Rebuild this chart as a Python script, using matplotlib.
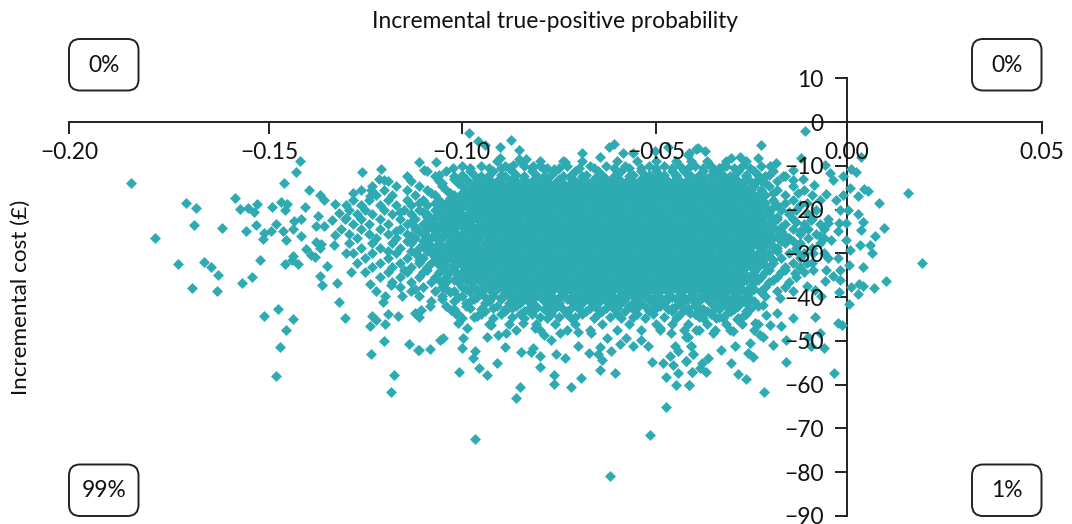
import matplotlib
matplotlib.use("Agg")
import matplotlib.pyplot as plt
from matplotlib.patches import FancyBboxPatch

plt.rcParams["font.family"] = ["Lato", "DejaVu Sans"]

# scattered points
edge_prob = [
    -.1840, -.1699, -.1673, -.1679, -.1778, -.1606, -.1719, -.1652, -.1636, -.1617, -.1684, -.1620, -.1555, -.1530,
    -.1509, -.1546, -.1520, -.1573, -.1560, -.1540, -.1525, -.1517, -.1478, -.1454, -.1439, -.1444, -.1393, -.1384,
    -.1447, -.1416, -.1407, -.1499, -.1502, -.1482, -.1469, -.1450, -.1441, -.1421, -.1424, -.1403, -.1403, -.1391,
    -.1424, -.1445, -.1428, -.1411, -.1379, -.1368, -.1364, -.1361, -.1345, -.1364, -.1351, -.1355, -.1338, -.1354,
    -.1349, -.1312, -.1305, -.1291, -.1498, -.1464, -.1424, -.1443, -.1457, -.1469, -.1224, -.1191, -.1227, -.1220,
    -.1210, -.1188, -.1180, -.1153, -.1194, -.1188, -.1210, -.1225, -.1173, -.1145, -.1126, -.1103, -.1164, -.1172,
    -.1107, -.1355, -.1345, -.1316, -.1289, -.1271, -.1246, -.1197, -.1203, -.1190, -.1223, -.1225, -.1317, -.1319,
    -.1287, -.1274, -.1325, -.1306, -.1287,
    -.0957, -.0507, -.0608, -.0466, -.0852, -.0840, -.0998, -.0946, -.0926, -.0901, -.0961, -.0957, -.0989, -.0987,
    -.1099, -.1071, -.1047, -.1039, -.0879, -.0925, -.0976, -.1000, -.0951, -.1017, -.1006, -.1071, -.1110, -.1099,
    -.1094, -.0914, -.0897, -.0876, -.0837, -.0807, -.0812, -.0790, -.0790, -.0749, -.0724, -.0752, -.0754, -.0709,
    -.0683, -.0635, -.0597, -.0629, -.0663, -.0640, -.0634, -.0607, -.0692, -.0617, -.0692, -.0739, -.0760, -.0780,
    -.0803, -.0833, -.0501, -.0473, -.0466, -.0440, -.0406, -.0434, -.0399, -.0447, -.0415, -.0396, -.0400, -.0443,
    -.0435, -.0456, -.0550, -.0512, -.0584, -.0567, -.0529, -.0657, -.0482, -.0413, -.0452, -.0379,
    -.0973, -.0949, -.0930, -.0892, -.0865, -.0844, -.0893, -.0843, -.1100, -.1056, -.1088, -.0824, -.0782, -.0754,
    -.0724, -.0680, -.0636, -.0612, -.0600, -.0576, -.0550, -.0494, -.0460, -.0405, -.0383, -.1013, -.0944, -.0927,
    -.0889, -.0859, -.0807,
    -.0108, -.0220, -.0119, .0037, -.0387, -.0366, -.0409, -.0297, -.0276, -.0230, -.0319, -.0182, -.0199, -.0139,
    -.0057, -.0044, -.0010, .0009, .0024, -.0113, -.0036, -.0085, .0007, .0043, .0054, .0028, -.0053, -.0027, -.0010,
    .0082, .0157, .0027, .0003, -.0019, .0040, .0094, .0071, .0037, .0058, .0033, .0063, .0007, -.0020, -.0002,
    -.0023, -.0002, -.0040, -.0023, -.0049, .0005, .0041, .0194, -.0019, -.0053, -.0087, -.0017, -.0036, -.0057,
    .0011, .0031, .0041, .0070, .0099, .0027, -.0021, .0004, -.0066, -.0083, -.0104, -.0083, -.0140, -.0023, -.0014,
    -.0156, -.0190, -.0070, -.0100, -.0092, -.0060, -.0156, -.0033, -.0213, -.0259, -.0280, -.0299, -.0250, -.0254,
    -.0241, -.0289, -.0323, -.0293, -.0357, -.0374, -.0363, -.0398, -.0415, -.0397, -.0400, -.0406, -.0409, -.0344,
    -.0387, -.0224, -.0216, -.0199, -.0169, -.0237, -.0284, -.0336, -.0207, -.0181, -.0216, -.0297, -.0370, -.0404,
    -.0139, -.0173, -.0134, -.0104, -.0087, -.0070, -.0049, -.0092, -.0113, -.0104, -.0126, -.0139, -.0164, -.0344,
]
edge_cost = [
    -13.9, -18.5, -19.6, -23.6, -26.4, -24.1, -32.4, -32.0, -33.0, -34.9, -37.8, -38.6, -36.8, -35.3,
    -31.5, -25.0, -23.5, -17.4, -19.8, -19.6, -20.6, -18.7, -19.4, -18.2, -18.7, -20.0, -19.3, -15.6,
    -13.9, -11.5, -8.8, -25.4, -26.7, -25.0, -23.2, -25.0, -27.0, -22.5, -24.4, -22.1, -26.0, -29.0,
    -30.5, -32.4, -31.4, -32.4, -30.4, -30.8, -23.7, -21.5, -23.8, -27.3, -27.8, -28.8, -32.8, -35.1,
    -37.2, -36.8, -41.0, -44.8, -44.2, -42.7, -45.0, -47.4, -51.5, -58.0, -53.1, -50.0, -46.5, -44.4,
    -45.3, -46.1, -43.8, -44.4, -41.2, -39.8, -38.7, -36.9, -37.3, -39.8, -50.6, -52.0, -57.8, -61.7,
    -43.8, -16.6, -17.7, -18.7, -18.9, -16.1, -11.3, -10.7, -12.9, -13.3, -15.5, -17.0, -25.7, -28.0,
    -29.9, -34.3, -22.3, -20.8, -21.9,
    -72.5, -71.4, -80.9, -65.1, -63.1, -60.5, -57.1, -56.2, -57.8, -55.1, -54.0, -52.4, -51.7, -49.4,
    -52.0, -51.8, -49.7, -49.3, -51.5, -49.0, -47.1, -46.0, -44.3, -43.0, -43.8, -42.0, -43.6, -44.5,
    -43.0, -46.4, -48.6, -48.2, -52.5, -51.6, -52.6, -53.4, -56.0, -53.1, -53.9, -57.8, -59.8, -60.6,
    -58.5, -56.7, -57.3, -54.4, -52.8, -53.0, -51.4, -52.2, -51.2, -49.4, -48.0, -48.2, -49.9, -48.7,
    -47.0, -46.0, -54.8, -55.0, -58.2, -60.1, -60.0, -57.3, -57.2, -55.4, -54.5, -53.1, -51.2, -51.2,
    -52.4, -53.5, -51.2, -51.2, -50.6, -49.3, -49.7, -48.2, -47.0, -49.0, -48.2, -56.2,
    -2.5, -4.3, -5.3, -5.6, -4.0, -6.3, -8.2, -8.4, -9.1, -9.1, -11.0, -8.5, -10.4, -10.7,
    -9.2, -7.1, -8.0, -5.7, -5.0, -7.0, -7.1, -6.5, -5.6, -7.1, -6.0, -10.5, -12.8, -15.5,
    -10.5, -9.8, -10.1,
    -2.1, -5.2, -8.2, -8.0, -6.2, -6.7, -7.5, -8.2, -7.9, -8.2, -10.1, -9.4, -10.1, -10.9,
    -9.8, -11.7, -12.3, -10.7, -11.5, -13.0, -13.3, -14.4, -15.1, -15.3, -15.8, -16.8, -16.5, -17.7, -16.6,
    -18.4, -16.2, -20.9, -20.0, -20.0, -22.9, -24.1, -26.0, -24.6, -28.0, -28.0, -29.9, -29.2, -23.1, -23.1,
    -25.0, -26.9, -26.9, -31.1, -31.1, -32.7, -33.0, -32.2, -33.9, -33.7, -33.7, -36.0, -35.2, -36.4,
    -37.7, -36.9, -37.5, -37.8, -36.3, -39.3, -38.9, -41.5, -39.8, -38.3, -37.5, -44.5, -44.8, -45.9, -46.4,
    -49.7, -50.9, -48.2, -49.0, -51.2, -51.6, -54.9, -57.4, -61.7, -58.8, -57.5, -55.0, -50.5, -52.8,
    -53.7, -51.2, -52.0, -47.8, -53.9, -55.0, -57.2, -57.2, -54.7, -53.1, -51.1, -60.0, -49.0, -48.2,
    -47.4, -48.6, -49.0, -46.3, -46.7, -45.9, -45.1, -44.8, -44.0, -43.6, -41.7, -43.2, -43.6, -43.6,
    -38.7, -40.2, -34.5, -32.2, -29.9, -26.1, -23.1, -22.3, -24.6, -18.5, -16.2, -13.2, -12.4, -10.9,
]

# the dense middle, one row of probabilities (in thousandths) per cost level
core_cost = [
    -11.2, -12.3, -13.4, -14.5, -15.6, -16.7, -17.8, -18.9, -20.0, -21.1, -22.2, -23.3, -24.4, -25.5, -26.6, -27.7,
    -28.8, -29.9, -31.0, -32.1, -33.2, -34.3, -35.4, -36.5, -37.6, -38.7, -39.8, -40.9, -42.0, -43.2, -44.5,
]
core_prob_milli = [
    [-108, -103, -97, -91, -86, -81, -75, -70, -64, -58, -53, -49, -45, -42, -37, -33, -28, -24, -19],
    [-113, -106, -101, -94, -88, -83, -78, -73, -68, -64, -60, -56, -52, -48, -44, -40, -37, -34, -30, -26, -21, -16],
    [-118, -112, -105, -100, -95, -90, -85, -81, -77, -74, -70, -67, -64, -61, -58, -55, -52, -49, -46, -43, -40, -37, -34, -31, -28, -25, -22, -18],
    [-122, -116, -110, -104, -99, -93, -89, -86, -83, -80, -77, -74, -71, -68, -65, -63, -60, -57, -55, -52, -49, -47, -44, -41, -39, -36, -33, -30, -27, -24, -20, -14],
    [-125, -119, -113, -108, -103, -98, -94, -91, -88, -85, -82, -79, -77, -74, -71, -69, -66, -64, -61, -59, -56, -54, -51, -49, -46, -44, -41, -39, -36, -34, -31, -28, -25, -22, -18, -11],
    [-121, -117, -111, -106, -101, -98, -95, -92, -90, -87, -84, -81, -78, -75, -73, -70, -68, -65, -63, -60, -58, -55, -53, -50, -48, -45, -43, -40, -38, -35, -33, -30, -27, -24, -21, -16, -9],
    [-127, -123, -118, -113, -109, -105, -102, -99, -96, -94, -91, -89, -86, -84, -81, -79, -76, -74, -71, -69, -66, -64, -61, -59, -56, -54, -51, -49, -46, -44, -41, -39, -36, -34, -31, -29, -26, -23, -19, -14, -7],
    [-125, -120, -116, -112, -108, -104, -101, -98, -95, -93, -90, -88, -85, -83, -80, -78, -75, -73, -70, -68, -65, -63, -60, -58, -55, -53, -50, -48, -45, -43, -40, -38, -35, -33, -30, -28, -25, -22, -18, -12],
    [-128, -124, -119, -114, -110, -106, -103, -100, -97, -94, -92, -89, -87, -84, -82, -79, -77, -74, -72, -69, -67, -64, -62, -59, -57, -54, -52, -49, -47, -44, -42, -39, -37, -34, -32, -29, -27, -24, -21, -17, -13, -8],
    [-126, -122, -117, -112, -108, -105, -102, -99, -96, -93, -91, -88, -86, -83, -81, -78, -76, -73, -71, -68, -66, -63, -61, -58, -56, -53, -51, -48, -46, -43, -41, -38, -36, -33, -31, -28, -26, -23, -20, -15, -10],
    [-129, -125, -120, -115, -111, -107, -104, -101, -98, -95, -92, -90, -87, -85, -82, -80, -77, -75, -72, -70, -67, -65, -62, -60, -57, -55, -52, -50, -47, -45, -42, -40, -37, -35, -32, -30, -27, -25, -22, -18, -14, -9, -5],
    [-127, -123, -118, -113, -109, -106, -103, -100, -97, -94, -91, -89, -86, -84, -81, -79, -76, -74, -71, -69, -66, -64, -61, -59, -56, -54, -51, -49, -46, -44, -41, -39, -36, -34, -31, -29, -26, -24, -21, -16, -11, -7],
    [-130, -125, -120, -115, -111, -108, -104, -101, -98, -95, -93, -90, -88, -85, -83, -80, -78, -75, -73, -70, -68, -65, -63, -60, -58, -55, -53, -50, -48, -45, -43, -40, -38, -35, -33, -30, -28, -25, -23, -19, -14, -10, -6],
    [-128, -123, -118, -113, -109, -106, -102, -99, -96, -94, -91, -89, -86, -84, -81, -79, -76, -74, -71, -69, -66, -64, -61, -59, -56, -54, -51, -49, -46, -44, -41, -39, -36, -34, -31, -29, -26, -24, -21, -17, -12, -8],
    [-126, -121, -116, -111, -107, -104, -100, -97, -95, -92, -90, -87, -85, -82, -80, -77, -75, -72, -70, -67, -65, -62, -60, -57, -55, -52, -50, -47, -45, -42, -40, -37, -35, -32, -30, -27, -25, -22, -19, -15, -10, -6],
    [-128, -122, -117, -112, -108, -105, -102, -99, -96, -93, -91, -88, -86, -83, -81, -78, -76, -73, -71, -68, -66, -63, -61, -58, -56, -53, -51, -48, -46, -43, -41, -38, -36, -33, -31, -28, -26, -23, -20, -16, -12, -7],
    [-125, -120, -115, -110, -106, -103, -100, -97, -95, -92, -90, -87, -85, -82, -80, -77, -75, -72, -70, -67, -65, -62, -60, -57, -55, -52, -50, -47, -45, -42, -40, -37, -35, -32, -30, -27, -25, -22, -18, -13, -9],
    [-127, -122, -116, -111, -107, -104, -101, -98, -96, -93, -91, -88, -86, -83, -81, -78, -76, -73, -71, -68, -66, -63, -61, -58, -56, -53, -51, -48, -46, -43, -41, -38, -36, -33, -31, -28, -26, -23, -20, -15, -11, -6],
    [-124, -118, -113, -109, -105, -102, -99, -97, -94, -92, -89, -87, -84, -82, -79, -77, -74, -72, -69, -67, -64, -62, -59, -57, -54, -52, -49, -47, -44, -42, -39, -37, -34, -32, -29, -27, -24, -21, -17, -12],
    [-126, -120, -115, -110, -107, -104, -100, -98, -95, -93, -90, -88, -85, -83, -80, -78, -75, -73, -70, -68, -65, -63, -60, -58, -55, -53, -50, -48, -45, -43, -40, -38, -35, -33, -30, -28, -25, -22, -19, -14, -9],
    [-122, -117, -112, -108, -104, -101, -98, -96, -93, -91, -88, -86, -83, -81, -78, -76, -73, -71, -68, -66, -63, -61, -58, -56, -53, -51, -48, -46, -43, -41, -38, -36, -33, -31, -28, -26, -23, -20, -16, -12],
    [-124, -118, -113, -109, -105, -102, -99, -97, -94, -92, -89, -87, -84, -82, -79, -77, -74, -72, -69, -67, -64, -62, -59, -57, -54, -52, -49, -47, -44, -42, -39, -37, -34, -32, -29, -27, -24, -21, -17, -11],
    [-120, -115, -110, -106, -103, -100, -98, -95, -93, -90, -88, -85, -83, -80, -78, -75, -73, -70, -68, -65, -63, -60, -58, -55, -53, -50, -48, -45, -43, -40, -38, -35, -33, -30, -28, -25, -22, -18, -13],
    [-117, -112, -107, -103, -100, -97, -94, -92, -89, -87, -84, -82, -79, -77, -74, -72, -69, -67, -64, -62, -59, -57, -54, -52, -49, -47, -44, -42, -39, -37, -34, -32, -29, -27, -24, -20, -15],
    [-115, -109, -104, -99, -96, -93, -90, -88, -85, -83, -80, -78, -75, -73, -70, -68, -65, -63, -60, -58, -55, -53, -50, -48, -45, -43, -40, -38, -35, -33, -30, -28, -25, -21, -16],
    [-112, -106, -101, -97, -94, -91, -87, -84, -81, -79, -76, -73, -71, -68, -66, -63, -61, -58, -56, -53, -51, -48, -46, -43, -40, -37, -35, -32, -29, -26, -22, -18],
    [-110, -104, -99, -95, -91, -87, -83, -80, -77, -73, -70, -67, -64, -61, -58, -55, -52, -49, -46, -43, -39, -36, -33, -29, -26, -21],
    [-107, -101, -97, -92, -86, -82, -78, -75, -71, -66, -62, -59, -54, -50, -47, -42, -38, -35, -30, -27, -24],
    [-103, -98, -90, -85, -80, -76, -69, -65, -60, -56, -52, -48, -44, -39, -34, -31, -28, -23],
    [-93, -88, -83, -77, -72, -67, -63, -57, -51, -45, -41, -36, -30, -26],
    [-96, -86, -79, -74, -70, -61, -55, -47, -38, -33, -27],
]

# second pass over the same region, rows in between the ones above
fill_cost = [
    -10.0, -12.0, -14.0, -16.2, -18.4, -20.6, -22.8, -25.0, -27.2, -29.4, -31.6, -33.8, -36.0, -38.2, -40.4, -42.6, -44.8,
]
fill_prob_milli = [
    [-99, -94, -88, -83, -79, -72, -66, -62, -57, -51, -47, -43, -39, -35, -31, -27, -22],
    [-105, -99, -96, -92, -89, -85, -80, -76, -71, -67, -63, -59, -55, -51, -47, -44, -41, -38, -35, -32, -29, -26, -23, -20],
    [-104, -100, -97, -95, -93, -91, -89, -87, -85, -83, -81, -79, -77, -75, -73, -71, -69, -67, -65, -63, -61, -59, -57, -55, -53, -51, -49, -47, -45, -43, -41, -39, -37, -35, -33, -31, -29, -27, -24, -21],
    [-107, -102, -99, -97, -95, -93, -91, -89, -87, -85, -83, -81, -79, -77, -75, -73, -71, -69, -67, -65, -63, -61, -59, -57, -55, -53, -51, -49, -47, -45, -43, -41, -39, -37, -35, -33, -31, -29, -27, -25, -22, -19],
    [-110, -106, -103, -100, -98, -96, -94, -92, -90, -88, -86, -84, -82, -80, -78, -76, -74, -72, -70, -68, -66, -64, -62, -60, -58, -56, -54, -52, -50, -48, -46, -44, -42, -40, -38, -36, -34, -32, -30, -28, -26, -24, -21, -16],
    [-115, -109, -105, -102, -100, -97, -95, -93, -91, -89, -87, -85, -83, -81, -79, -77, -75, -73, -71, -69, -67, -65, -63, -61, -59, -57, -55, -53, -51, -49, -47, -45, -43, -41, -39, -37, -35, -33, -31, -29, -27, -25, -23, -20, -15],
    [-112, -108, -104, -102, -99, -97, -94, -92, -90, -88, -86, -84, -82, -80, -78, -76, -74, -72, -70, -68, -66, -64, -62, -60, -58, -56, -54, -52, -50, -48, -46, -44, -42, -40, -38, -36, -34, -32, -30, -28, -26, -24, -22, -19, -13],
    [-116, -110, -106, -103, -101, -98, -96, -93, -91, -89, -87, -85, -83, -81, -79, -77, -75, -73, -71, -69, -67, -65, -63, -61, -59, -57, -55, -53, -51, -49, -47, -45, -43, -41, -39, -37, -35, -33, -31, -29, -27, -25, -23, -20, -17, -12],
    [-113, -109, -105, -102, -100, -98, -95, -92, -90, -88, -86, -84, -82, -80, -78, -76, -74, -72, -70, -68, -66, -64, -62, -60, -58, -56, -54, -52, -50, -48, -46, -44, -42, -40, -38, -36, -34, -32, -30, -28, -26, -24, -21, -17, -14],
    [-118, -112, -108, -105, -102, -99, -97, -94, -92, -89, -87, -85, -83, -81, -79, -77, -75, -73, -71, -69, -67, -65, -63, -61, -59, -57, -55, -53, -51, -49, -47, -45, -43, -41, -39, -37, -35, -33, -31, -29, -27, -25, -22, -18, -13],
    [-110, -106, -103, -101, -99, -96, -94, -92, -90, -88, -86, -84, -82, -80, -78, -76, -74, -72, -70, -68, -66, -64, -62, -60, -58, -56, -54, -52, -50, -48, -46, -44, -42, -40, -38, -36, -34, -32, -30, -28, -26, -23, -19],
    [-114, -108, -104, -101, -98, -95, -93, -91, -89, -87, -85, -83, -81, -79, -77, -75, -73, -71, -69, -67, -65, -63, -61, -59, -57, -55, -53, -51, -49, -47, -45, -43, -41, -39, -37, -35, -33, -31, -29, -27, -24, -20, -16],
    [-105, -101, -98, -96, -94, -92, -90, -88, -86, -84, -82, -80, -78, -76, -74, -72, -70, -68, -66, -64, -62, -60, -58, -56, -54, -52, -50, -48, -46, -44, -42, -40, -38, -36, -34, -32, -30, -28, -26, -23, -19],
    [-111, -103, -98, -95, -92, -90, -88, -86, -84, -82, -80, -78, -76, -74, -72, -70, -68, -66, -64, -62, -60, -58, -56, -54, -52, -50, -48, -46, -44, -42, -40, -38, -36, -34, -32, -30, -27, -24],
    [-104, -96, -92, -89, -86, -83, -81, -78, -75, -72, -69, -67, -64, -61, -59, -57, -54, -51, -49, -46, -44, -41, -38, -36, -33, -31, -28, -25],
    [-101, -94, -88, -82, -78, -73, -69, -64, -60, -55, -50, -46, -42, -37, -33, -29, -25],
    [-99, -91, -83, -77, -71, -65, -58, -52, -44, -37, -32, -28],
]

# third pass, only where the cloud is solid
solid_cost = [-15.1, -17.3, -19.5, -21.7, -23.9, -26.1, -28.3, -30.5, -32.7, -34.9, -37.1]
solid_prob_milli = [
    [-96, -94, -92, -90, -88, -86, -84, -82, -80, -78, -76, -74, -72, -70, -68, -66, -64, -62, -60, -58, -56, -54, -52, -50, -48, -46, -44, -42, -40, -38, -36, -34, -32, -30, -28, -26],
    [-102, -100, -98, -96, -94, -92, -90, -88, -86, -84, -82, -80, -78, -76, -74, -72, -70, -68, -66, -64, -62, -60, -58, -56, -54, -52, -50, -48, -46, -44, -42, -40, -38, -36, -34, -32, -30, -28, -26, -24, -22],
    [-105, -103, -101, -99, -97, -95, -93, -91, -89, -87, -85, -83, -81, -79, -77, -75, -73, -71, -69, -67, -65, -63, -61, -59, -57, -55, -53, -51, -49, -47, -45, -43, -41, -39, -37, -35, -33, -31, -29, -27, -25, -23, -21, -19],
    [-108, -106, -104, -102, -100, -98, -96, -94, -92, -90, -88, -86, -84, -82, -80, -78, -76, -74, -72, -70, -68, -66, -64, -62, -60, -58, -56, -54, -52, -50, -48, -46, -44, -42, -40, -38, -36, -34, -32, -30, -28, -26, -24, -22, -20, -18],
    [-111, -107, -105, -103, -101, -99, -97, -95, -93, -91, -89, -87, -85, -83, -81, -79, -77, -75, -73, -71, -69, -67, -65, -63, -61, -59, -57, -55, -53, -51, -49, -47, -45, -43, -41, -39, -37, -35, -33, -31, -29, -27, -25, -23, -21, -19, -17],
    [-112, -108, -106, -104, -102, -100, -98, -96, -94, -92, -90, -88, -86, -84, -82, -80, -78, -76, -74, -72, -70, -68, -66, -64, -62, -60, -58, -56, -54, -52, -50, -48, -46, -44, -42, -40, -38, -36, -34, -32, -30, -28, -26, -24, -22, -20, -18, -16],
    [-109, -107, -105, -103, -101, -99, -97, -95, -93, -91, -89, -87, -85, -83, -81, -79, -77, -75, -73, -71, -69, -67, -65, -63, -61, -59, -57, -55, -53, -51, -49, -47, -45, -43, -41, -39, -37, -35, -33, -31, -29, -27, -25, -23, -21, -19],
    [-110, -106, -104, -102, -100, -98, -96, -94, -92, -90, -88, -86, -84, -82, -80, -78, -76, -74, -72, -70, -68, -66, -64, -62, -60, -58, -56, -54, -52, -50, -48, -46, -44, -42, -40, -38, -36, -34, -32, -30, -28, -26, -24, -22, -20],
    [-105, -103, -101, -99, -97, -95, -93, -91, -89, -87, -85, -83, -81, -79, -77, -75, -73, -71, -69, -67, -65, -63, -61, -59, -57, -55, -53, -51, -49, -47, -45, -43, -41, -39, -37, -35, -33, -31, -29, -27, -25, -23, -21],
    [-100, -98, -96, -94, -92, -90, -88, -86, -84, -82, -80, -78, -76, -74, -72, -70, -68, -66, -64, -62, -60, -58, -56, -54, -52, -50, -48, -46, -44, -42, -40, -38, -36, -34, -32, -30, -28, -26, -24],
    [-93, -91, -89, -87, -85, -83, -81, -79, -77, -75, -73, -71, -69, -67, -65, -63, -61, -59, -57, -55, -53, -51, -49, -47, -45, -43, -41, -39, -37, -35, -33, -31, -29],
]

# thickening along the top and bottom of the cloud and both its ends
band_cost = [-8.8, -10.6, -12.9, -38.8, -40.0, -41.3, -42.4, -43.9, -46.2, -47.6]
band_prob_milli = [
    [-90, -84, -79, -73, -68, -59, -54, -49, -44, -40, -36, -31, -26],
    [-97, -92, -87, -81, -77, -74, -69, -65, -60, -56, -53, -49, -45, -41, -37, -33, -29, -25],
    [-101, -98, -95, -92, -89, -86, -83, -80, -77, -74, -71, -68, -65, -62, -59, -56, -53, -50, -47, -44, -41, -38, -35, -32, -29, -26, -23],
    [-102, -97, -94, -91, -88, -85, -82, -79, -76, -73, -70, -67, -64, -61, -58, -55, -52, -49, -46, -43, -40, -37, -34, -31, -28, -25, -22],
    [-100, -95, -93, -89, -85, -82, -79, -76, -74, -71, -68, -65, -62, -60, -57, -54, -51, -48, -45, -42, -40, -37, -34, -31, -28],
    [-98, -93, -87, -84, -81, -77, -74, -70, -68, -64, -61, -58, -55, -53, -50, -47, -43, -39, -35, -32, -29, -26],
    [-97, -91, -86, -80, -75, -71, -66, -62, -59, -54, -49, -45, -41, -38, -34, -29, -25],
    [-100, -94, -89, -84, -81, -76, -72, -68, -64, -59, -54, -50, -43, -39, -35, -31, -26],
    [-92, -87, -80, -75, -70, -63, -56, -49, -45, -41, -36, -31, -27, -23],
    [-85, -79, -72, -66, -59, -53, -48, -42, -38, -34, -30, -24],
]

x_ticks = [-0.20, -0.1486, -0.0991, -0.0490, 0.00, 0.05]
x_labels = ["−0.20", "−0.15", "−0.10", "−0.05", "0.00", "0.05"]
y_ticks = [10, 0, -10, -20, -30, -40, -50, -60, -70, -80, -90]
y_labels = ["10", "0", "−10", "−20", "−30", "−40", "−50", "−60", "−70", "−80", "−90"]

quadrant_labels = ["0%", "0%", "99%", "1%"]

prob = list(edge_prob)
cost = list(edge_cost)
passes = [(core_cost, core_prob_milli), (fill_cost, fill_prob_milli), (solid_cost, solid_prob_milli), (band_cost, band_prob_milli)]
for levels, rows in passes:
    for c, row in zip(levels, rows):
        for p in row:
            prob.append(p / 1000)
            cost.append(c)

fig = plt.figure(figsize=(10.72, 5.24), dpi=100)
rect = [69 / 1072, 1 - 516 / 524, (1041.5 - 69) / 1072, (516 - 78.3) / 524]

# axes lines sit under the points
ax = fig.add_axes(rect)
ax.scatter(prob, cost, marker="D", s=31, color="#2eaab2", linewidths=0, zorder=3, clip_on=False)
ax.set_xlim(-0.20, 0.05)
ax.set_ylim(-90, 10)
ax.set_axisbelow(True)
ax.spines["top"].set_visible(False)
ax.spines["right"].set_visible(False)
ax.spines["bottom"].set_position(("data", 0))
ax.spines["left"].set_position(("data", 0))
for s in ["bottom", "left"]:
    ax.spines[s].set_linewidth(1.4)
    ax.spines[s].set_color("#222222")
    ax.spines[s].set_zorder(1)
ax.set_xticks(x_ticks)
ax.set_yticks(y_ticks)
ax.tick_params(length=8.6, width=1.4, color="#222222", labelbottom=False, labelleft=False)

# labels sit over the points, so they go on a second clear axes
top = fig.add_axes(rect, facecolor="none")
top.set_xlim(-0.20, 0.05)
top.set_ylim(-90, 10)
for s in top.spines.values():
    s.set_visible(False)
top.spines["bottom"].set_position(("data", 0))
top.spines["left"].set_position(("data", 0))
top.set_xticks(x_ticks)
top.set_xticklabels(x_labels)
top.set_yticks(y_ticks)
top.set_yticklabels(y_labels)
top.tick_params(length=8.6, width=0, labelsize=16.4, labelcolor="#111111")
top.tick_params(axis="x", pad=6)
top.tick_params(axis="y", pad=8)

fig.text(555.5 / 1072, 1 - 21 / 524, "Incremental true-positive probability", ha="center", va="center", fontsize=16.4, color="#111111")
fig.text(21 / 1072, 1 - 297 / 524, "Incremental cost (£)", rotation=90, ha="center", va="center", fontsize=16.2, color="#111111")

# the four quadrant boxes
box_left = [69, 972, 69, 972]
box_top = [39, 39, 464.5, 464.5]
for x0, y0, txt in zip(box_left, box_top, quadrant_labels):
    fig.add_artist(FancyBboxPatch((x0, 524 - y0 - 51.5), 69.5, 51.5, boxstyle="round,pad=0,rounding_size=11",
                                  transform=None, fc="white", ec="#222222", lw=1.4))
    fig.text((x0 + 34.7) / 1072, 1 - (y0 + 26) / 524, txt, ha="center", va="center", fontsize=16.4, color="#111111")

fig.savefig("out.png", dpi=100)
